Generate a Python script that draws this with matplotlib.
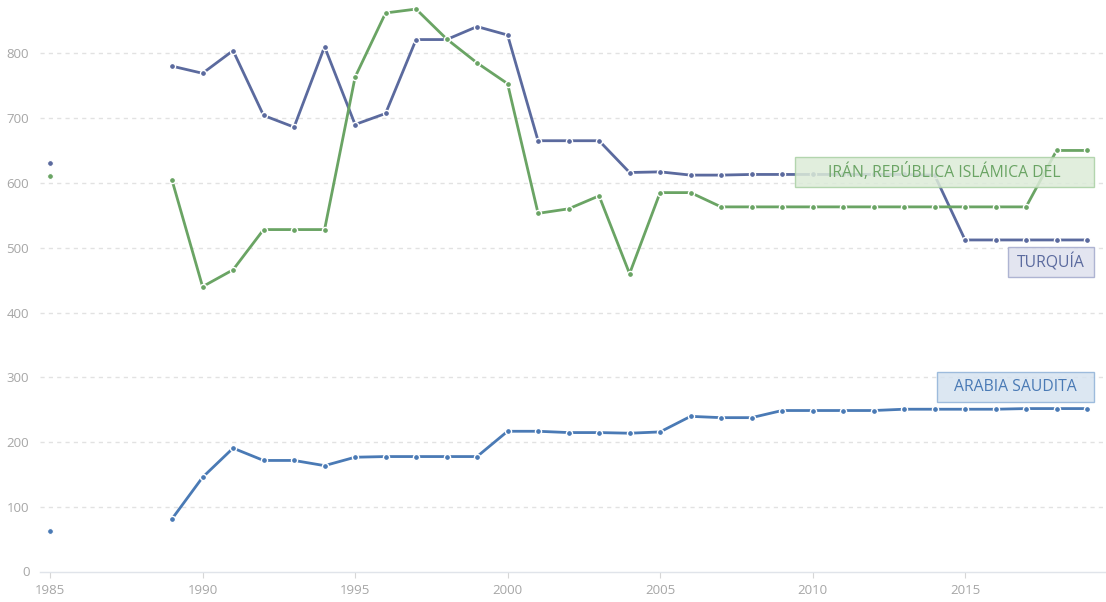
import numpy as np
import matplotlib
matplotlib.use("Agg")
import matplotlib.pyplot as plt
from matplotlib.patches import Rectangle

plt.rcParams['font.family'] = ['Open Sans', 'DejaVu Sans']

years = [1985] + list(range(1989, 2020))

turkey = [630, 780, 769, 804, 704, 686, 810, 690, 707, 821, 821, 841, 828,
          665, 665, 665, 616, 617, 612, 612, 613, 613, 613, 613, 613, 613, 612,
          512, 512, 512, 512, 512]
iran = [610, 604, 440, 466, 528, 528, 528, 763, 862, 868, 822, 785, 753,
        553, 560, 580, 460, 585, 585, 563, 563, 563, 563, 563, 563, 563, 563,
        563, 563, 563, 650, 650]
saudi = [63, 82, 146, 191, 172, 172, 164, 177, 178, 178, 178, 178, 217,
         217, 215, 215, 214, 216, 240, 238, 238, 249, 249, 249, 249, 251, 251,
         251, 251, 252, 252, 252]

series_names = ["TURQUÍA", "IRÁN, REPÚBLICA ISLÁMICA DEL", "ARABIA SAUDITA"]
series_values = [turkey, iran, saudi]
colors = ["#5b6a9e", "#6aa464", "#4a7ab5"]
box_faces = ["#dfe1ee", "#dcebd8", "#d6e3f0"]
box_edges = ["#a3a9cc", "#a9d0a3", "#8fb2d8"]
label_y_px = [262, 172, 387]  # vertical centre in pixels (style)
label_pad_px = [9, 33, 17]

xticks = [1985, 1990, 1995, 2000, 2005, 2010, 2015]
yticks = [100, 200, 300, 400, 500, 600, 700, 800]

W, H = 1106, 602
fig = plt.figure(figsize=(W / 100, H / 100), dpi=100)
ax = fig.add_axes([40 / W, 30 / H, (W - 40) / W, (H - 30) / H])

for vals, col in zip(series_values, colors):
    x = np.array(years, dtype=float)
    y = np.array(vals, dtype=float)
    ax.plot(x[:1], y[:1], linestyle='none', marker='o', markersize=4.2,
            markerfacecolor=col, markeredgecolor='white', markeredgewidth=0.8, zorder=3)
    ax.plot(x[1:], y[1:], color=col, linewidth=2.0, marker='o', markersize=4.4,
            markerfacecolor=col, markeredgecolor='white', markeredgewidth=1.0,
            solid_joinstyle='round', zorder=3)

ax.set_xlim(1984.67, 2019.62)
ax.set_ylim(0, 882)
ax.set_yticks(yticks)
ax.set_xticks(xticks)
ax.tick_params(axis='y', length=0, labelsize=9.5, labelcolor='#a6a6a6', pad=8)
ax.tick_params(axis='x', length=4, width=0.8, color='#d6d6d6', labelsize=9.5,
               labelcolor='#a6a6a6', pad=5)
ax.grid(axis='y', color='#e2e2e2', linestyle=(0, (3, 3)), linewidth=1.0)
ax.set_axisbelow(True)
for s in ['top', 'right', 'left']:
    ax.spines[s].set_visible(False)
ax.spines['bottom'].set_color('#e0e4ea')
ax.spines['bottom'].set_linewidth(1.0)

fig.text(30 / W, 1 - 572 / H, "0", ha='right', va='center', fontsize=9.5, color='#a6a6a6')

renderer = fig.canvas.get_renderer()
right_px = 1094
for name, col, fc, ec, ypx, pad in zip(series_names, colors, box_faces, box_edges,
                                       label_y_px, label_pad_px):
    t = fig.text((right_px - pad) / W, 1 - ypx / H, name, ha='right', va='center',
                 fontsize=11.3, color=col, zorder=6)
    bb = t.get_window_extent(renderer=renderer)
    left = bb.x0 - pad
    rect = Rectangle((left / W, (H - ypx - 15) / H), (right_px - left) / W, 30 / H,
                     transform=fig.transFigure, facecolor=fc, edgecolor=ec,
                     linewidth=1.0, alpha=0.85, zorder=5)
    fig.add_artist(rect)

fig.savefig("out.png", dpi=100)
